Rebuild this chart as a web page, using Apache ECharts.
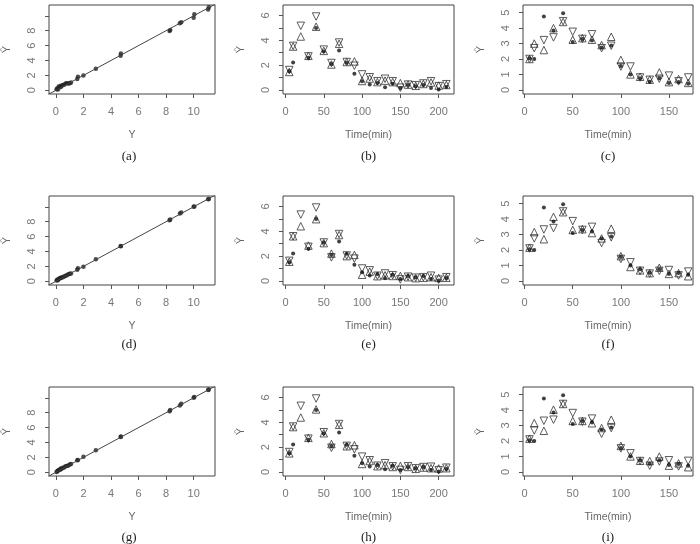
<!DOCTYPE html>
<html>
<head>
<meta charset="utf-8">
<script src="https://cdn.jsdelivr.net/npm/echarts@6/dist/echarts.min.js"></script>
<style>
  html, body { margin: 0; background: #fff; }
  #chart { width: 700px; height: 544px; }
</style>
</head>
<body>
<div id="chart"></div>
<script>
// observed vs predicted (left column)
const fitObs = [0.05, 0.1, 0.15, 0.2, 0.3, 0.35, 0.4, 0.5, 0.6, 0.7, 0.8, 0.9, 1.0, 1.1, 1.55, 1.6, 2.0, 2.9, 4.7, 4.72, 8.25, 8.3, 9.0, 9.1, 10.0, 10.05, 11.05, 11.1];
const fitPredA = [0.15, 0.25, 0.1, 0.5, 0.4, 0.6, 0.5, 0.7, 0.75, 0.9, 0.95, 0.9, 0.95, 1.05, 1.5, 1.8, 2.0, 2.9, 4.65, 4.95, 7.95, 8.1, 9.0, 9.15, 9.75, 10.2, 10.85, 11.15];
const fitPredD = [0.1, 0.2, 0.15, 0.35, 0.4, 0.45, 0.5, 0.55, 0.65, 0.75, 0.8, 0.95, 1.0, 1.05, 1.55, 1.75, 1.95, 2.95, 4.7, 4.75, 8.2, 8.3, 9.1, 9.25, 10.0, 10.05, 11.0, 11.05];
const fitPredG = [0.05, 0.15, 0.2, 0.3, 0.35, 0.5, 0.45, 0.6, 0.65, 0.8, 0.85, 0.9, 1.05, 1.1, 1.6, 1.65, 2.1, 2.95, 4.75, 4.8, 8.2, 8.35, 8.95, 9.2, 10.0, 10.1, 11.05, 11.1];
const identity = [[-1, -1], [12, 12]];

// first profile (middle column)
const timesA = [5, 10, 20, 30, 40, 50, 60, 70, 80, 90, 100, 110, 120, 130, 140, 150, 160, 170, 180, 190, 200, 210];
const obsA = [1.5, 2.22, null, 2.6, 5.0, 3.1, 2.1, 3.17, 2.2, 1.3, 0.7, 0.43, 0.55, 0.22, 0.5, 0.15, 0.4, 0.3, 0.4, 0.15, 0.03, 0.24];
const upB = [1.45, 3.5, 4.31, 2.75, 5.1, 3.15, 2.05, 3.72, 2.25, 2.3, 0.72, 0.92, 0.63, 0.75, 0.63, 0.55, 0.43, 0.33, 0.48, 0.6, 0.35, 0.4];
const downB = [1.6, 3.55, 5.17, 2.7, 5.92, 3.25, 2.17, 3.82, 2.25, 1.95, 1.25, 1.02, 0.7, 0.9, 0.7, 0.18, 0.43, 0.38, 0.52, 0.7, 0.3, 0.46];
const upE = [1.55, 3.6, 4.41, 2.85, 4.98, 3.05, 2.2, 3.7, 2.0, 2.1, 0.5, 0.75, 0.38, 0.45, 0.4, 0.4, 0.3, 0.22, 0.25, 0.3, 0.24, 0.25];
const downE = [1.62, 3.6, 5.35, 2.75, 5.92, 3.1, 1.9, 3.78, 2.05, 1.8, 1.0, 0.85, 0.42, 0.6, 0.46, 0.12, 0.34, 0.26, 0.3, 0.42, 0.1, 0.3];
const upH = [1.5, 3.62, 4.39, 2.75, 5.04, 3.12, 2.25, 3.8, 2.07, 2.15, 0.64, 0.88, 0.46, 0.55, 0.4, 0.48, 0.4, 0.25, 0.35, 0.3, 0.28, 0.3];
const downH = [1.6, 3.66, 5.33, 2.68, 5.92, 3.2, 1.95, 3.86, 2.1, 1.82, 1.23, 0.94, 0.5, 0.7, 0.45, 0.16, 0.46, 0.29, 0.39, 0.42, 0.14, 0.34];

// second profile (right column)
const timesB = [5, 10, 20, 30, 40, 50, 60, 70, 80, 90, 100, 110, 120, 130, 140, 150, 160, 170];
const obsB = [2.05, 2.0, 4.76, 3.85, 4.97, 3.1, 3.3, 3.2, 2.75, 2.88, 1.55, 1.0, 0.75, 0.52, 0.75, 0.45, 0.5, 0.4];
const upC = [2.0, 3.0, 2.58, 4.0, 4.4, 3.25, 3.35, 3.25, 2.9, 3.44, 1.94, 1.0, 0.85, 0.66, 1.13, 0.5, 0.7, 0.45];
const downC = [2.0, 2.7, 3.22, 3.4, 4.45, 3.76, 3.3, 3.6, 2.7, 2.86, 1.51, 1.51, 0.8, 0.65, 0.72, 0.92, 0.55, 0.8];
const upF = [2.15, 3.16, 2.7, 4.15, 4.45, 3.3, 3.35, 3.1, 2.75, 3.38, 1.6, 0.9, 0.68, 0.5, 0.85, 0.45, 0.5, 0.3];
const downF = [2.1, 2.75, 3.33, 3.42, 4.5, 3.87, 3.3, 3.5, 2.45, 2.82, 1.42, 1.2, 0.65, 0.47, 0.65, 0.7, 0.35, 0.6];
const upI = [2.15, 3.16, 2.66, 4.03, 4.4, 3.3, 3.3, 3.15, 2.84, 3.38, 1.68, 1.0, 0.72, 0.7, 0.99, 0.4, 0.55, 0.3];
const downI = [2.1, 2.68, 3.31, 3.38, 4.4, 3.81, 3.25, 3.45, 2.47, 2.84, 1.52, 1.2, 0.7, 0.4, 0.67, 0.75, 0.35, 0.71];

// ticks
const fitTicks = [0, 2, 4, 6, 8, 10];
const fitYLabels = [0, 2, 4, 6, 8];
const timeTicksA = [0, 50, 100, 150, 200];
const timeTicksB = [0, 50, 100, 150];
const yTicksA = [0, 1, 2, 3, 4, 5, 6];
const yLabelsA = [0, 2, 4, 6];
const yTicksB = [0, 1, 2, 3, 4, 5];

const SANS = '"Liberation Sans", Arial, sans-serif';
const SERIF = '"Liberation Serif", "Times New Roman", serif';

const cols = [{ left: 43, width: 172 }, { left: 283, width: 171 }, { left: 523, width: 170 }];
const rows = [{ top: 5, height: 89 }, { top: 196, height: 89 }, { top: 387, height: 89 }];

function pairs(xs, ys) {
  const out = [];
  xs.forEach((x, i) => { if (ys[i] != null) out.push([x, ys[i]]); });
  return out;
}

const fitPanel = (pred, label) => ({
  kind: 'fit', label, pred,
  x: [-0.5, 11.55], y: [-0.5, 11.45],
  xTicks: fitTicks, xLabels: fitTicks, yTicks: fitTicks, yLabels: fitYLabels, xName: 'Y',
});
const timePanelA = (up, down, label) => ({
  kind: 'time', label, times: timesA, obs: obsA, up, down,
  x: [-3.2, 220], y: [-0.33, 6.85],
  xTicks: timeTicksA, xLabels: timeTicksA, yTicks: yTicksA, yLabels: yLabelsA, xName: 'Time(min)',
});
const timePanelB = (up, down, label) => ({
  kind: 'time', label, times: timesB, obs: obsB, up, down,
  x: [-1.7, 175], y: [-0.27, 5.5],
  xTicks: timeTicksB, xLabels: timeTicksB, yTicks: yTicksB, yLabels: yTicksB, xName: 'Time(min)',
});

const panels = [
  fitPanel(fitPredA, '(a)'), timePanelA(upB, downB, '(b)'), timePanelB(upC, downC, '(c)'),
  fitPanel(fitPredD, '(d)'), timePanelA(upE, downE, '(e)'), timePanelB(upF, downF, '(f)'),
  fitPanel(fitPredG, '(g)'), timePanelA(upH, downH, '(h)'), timePanelB(upI, downI, '(i)'),
];

const grid = [], xAxis = [], yAxis = [], series = [], graphic = [];
const labelY = [157, 345, 538];

panels.forEach((p, i) => {
  const c = cols[i % 3], r = rows[Math.floor(i / 3)];
  grid.push({
    left: c.left, top: r.top, width: c.width, height: r.height,
    show: true, borderColor: '#444', borderWidth: 1, backgroundColor: 'transparent',
  });
  xAxis.push({
    type: 'value', gridIndex: i, min: p.x[0], max: p.x[1],
    name: p.xName, nameLocation: 'middle', nameGap: 36,
    nameTextStyle: { color: '#666', fontSize: 10.5, fontFamily: SANS },
    axisLine: { show: false, onZero: false },
    axisTick: { show: true, length: 4, lineStyle: { color: '#555' }, customValues: p.xTicks },
    axisLabel: { color: '#777', fontSize: 11, fontFamily: SANS, margin: 12, customValues: p.xLabels },
    splitLine: { show: false },
  });
  yAxis.push({
    type: 'value', gridIndex: i, min: p.y[0], max: p.y[1],
    name: 'Ŷ', nameLocation: 'middle', nameGap: 37,
    nameTextStyle: { color: '#666', fontSize: 11, fontFamily: SANS },
    axisLine: { show: false, onZero: false },
    axisTick: { show: true, length: 4, lineStyle: { color: '#555' }, customValues: p.yTicks },
    axisLabel: { color: '#777', fontSize: 11, fontFamily: SANS, margin: 12, rotate: 90, customValues: p.yLabels },
    splitLine: { show: false },
  });
  if (p.kind === 'fit') {
    series.push({
      type: 'line', xAxisIndex: i, yAxisIndex: i, data: identity,
      symbol: 'none', lineStyle: { color: '#444', width: 1 }, silent: true,
    });
    series.push({
      type: 'scatter', xAxisIndex: i, yAxisIndex: i, data: pairs(fitObs, p.pred),
      symbol: 'circle', symbolSize: 4.5, itemStyle: { color: '#222' },
    });
  } else {
    const open = { color: 'rgba(0,0,0,0)', borderColor: '#333', borderWidth: 1 };
    series.push({
      type: 'scatter', xAxisIndex: i, yAxisIndex: i, data: pairs(p.times, p.up),
      symbol: 'triangle', symbolSize: 7.5, itemStyle: open,
    });
    series.push({
      type: 'scatter', xAxisIndex: i, yAxisIndex: i, data: pairs(p.times, p.down),
      symbol: 'triangle', symbolRotate: 180, symbolSize: 7.5, itemStyle: open,
    });
    series.push({
      type: 'scatter', xAxisIndex: i, yAxisIndex: i, data: pairs(p.times, p.obs),
      symbol: 'circle', symbolSize: 4, itemStyle: { color: '#111' },
    });
  }
  graphic.push({
    type: 'text', x: c.left + c.width / 2, y: labelY[Math.floor(i / 3)],
    style: { text: p.label, font: '13px ' + SERIF, fill: '#222', textAlign: 'center', textVerticalAlign: 'middle' },
  });
});

const chart = echarts.init(document.getElementById('chart'), null, { renderer: 'canvas' });
chart.setOption({ animation: false, grid, xAxis, yAxis, series, graphic });
</script>
</body>
</html>
